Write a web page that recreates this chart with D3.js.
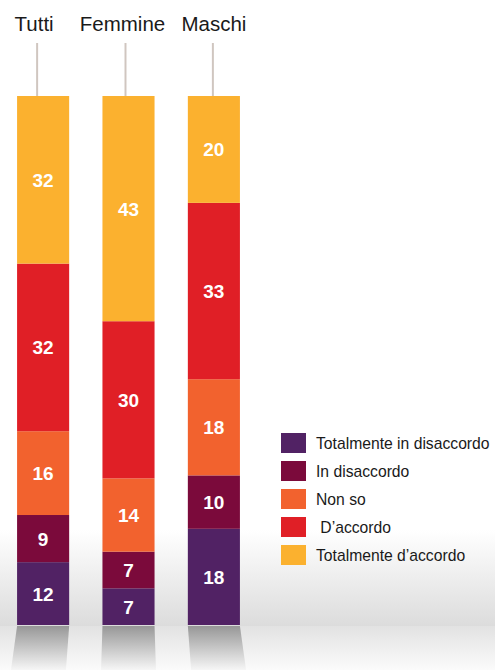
<!DOCTYPE html>
<html>
<head>
<meta charset="utf-8">
<script src="https://cdn.jsdelivr.net/npm/d3@7"></script>
<style>
  body { margin: 0; background: #fff; }
  svg { display: block; font-family: "Liberation Sans", Arial, sans-serif; }
</style>
</head>
<body>
<script>
// categories and answers (bottom to top of each bar)
var groups = ["Tutti", "Femmine", "Maschi"];
var answers = ["Totalmente in disaccordo", "In disaccordo", "Non so", " D\u2019accordo", "Totalmente d\u2019accordo"];
var colors = ["#512264", "#7b0a3b", "#f2622e", "#e01f26", "#fbb12f"];

// percentages per group, same order as answers
var tutti   = [12, 9, 16, 32, 32];
var femmine = [7, 7, 14, 30, 43];
var maschi  = [18, 10, 18, 33, 20];
var values = [tutti, femmine, maschi];

var width = 495, height = 670;
var barTop = 96, floor = 625;

var svg = d3.select("body").append("svg")
    .attr("width", width)
    .attr("height", height);

var defs = svg.append("defs");
var bg = defs.append("linearGradient").attr("id", "bg").attr("x1", 0).attr("x2", 0).attr("y1", 0).attr("y2", 1);
bg.append("stop").attr("offset", "0").attr("stop-color", "#ffffff");
bg.append("stop").attr("offset", "1").attr("stop-color", "#dcdcdc");
var fl = defs.append("linearGradient").attr("id", "fl").attr("x1", 0).attr("x2", 0).attr("y1", 0).attr("y2", 1);
fl.append("stop").attr("offset", "0").attr("stop-color", "#e2e2e2");
fl.append("stop").attr("offset", "1").attr("stop-color", "#fbfbfb");
var sh = defs.append("linearGradient").attr("id", "sh").attr("x1", 0).attr("x2", 0).attr("y1", 0).attr("y2", 1);
sh.append("stop").attr("offset", "0").attr("stop-color", "#979797");
sh.append("stop").attr("offset", "1").attr("stop-color", "#f6f6f6");

// backdrop: wall and floor
svg.append("rect").attr("x", 0).attr("y", 530).attr("width", width).attr("height", floor - 530 + 1).attr("fill", "url(#bg)");
svg.append("rect").attr("x", 0).attr("y", floor + 1).attr("width", width).attr("height", height - floor - 1).attr("fill", "url(#fl)");

var x = d3.scaleBand()
    .domain(groups)
    .range([0, 257])
    .paddingInner(0.39)
    .paddingOuter(0.2);

// titles and stems sit a little off the bar centres
var titleShift = [-9, -6, 0];
var stemShift = [-6, -3, -1];

// shadows under bars (slight perspective)
var vp = 128;
svg.selectAll("path.shadow")
    .data(groups)
    .enter().append("path")
    .attr("class", "shadow")
    .attr("fill", "url(#sh)")
    .attr("d", function(d) {
      var x0 = x(d), x1 = x(d) + x.bandwidth();
      var k = 0.055;
      return "M" + x0 + "," + (floor + 1) + "L" + x1 + "," + (floor + 1) +
             "L" + (x1 + (x1 - vp) * k) + "," + height +
             "L" + (x0 + (x0 - vp) * k) + "," + height + "Z";
    });

// stems above bars
svg.selectAll("line.stem")
    .data(groups)
    .enter().append("line")
    .attr("x1", function(d, i) { return x(d) + x.bandwidth() / 2 + stemShift[i]; })
    .attr("x2", function(d, i) { return x(d) + x.bandwidth() / 2 + stemShift[i]; })
    .attr("y1", 43)
    .attr("y2", barTop)
    .attr("stroke", "#d0c6c0")
    .attr("stroke-width", 2);

// group titles
svg.selectAll("text.title")
    .data(groups)
    .enter().append("text")
    .attr("x", function(d, i) { return x(d) + x.bandwidth() / 2 + titleShift[i]; })
    .attr("y", 31)
    .attr("text-anchor", "middle")
    .attr("font-size", "20.5px")
    .attr("fill", "#1a1a1a")
    .text(function(d) { return d; });

// stacked bars, each scaled to its own total
groups.forEach(function(g, gi) {
  var vals = values[gi];
  var y = d3.scaleLinear().domain([0, d3.sum(vals)]).range([floor, barTop]);
  var cum = d3.cumsum(vals);
  var segs = vals.map(function(v, i) { return { v: v, i: i, y0: cum[i] - v, y1: cum[i] }; });
  var gg = svg.append("g");
  gg.selectAll("rect")
    .data(segs)
    .enter().append("rect")
    .attr("x", x(g))
    .attr("width", x.bandwidth())
    .attr("y", function(d) { return y(d.y1); })
    .attr("height", function(d) { return y(d.y0) - y(d.y1); })
    .attr("fill", function(d) { return colors[d.i]; });
  gg.selectAll("text")
    .data(segs)
    .enter().append("text")
    .attr("x", x(g) + x.bandwidth() / 2)
    .attr("y", function(d) { return (y(d.y0) + y(d.y1)) / 2 + 7; })
    .attr("text-anchor", "middle")
    .attr("font-size", "19px")
    .attr("font-weight", "bold")
    .attr("fill", "#ffffff")
    .text(function(d) { return d.v; });
});

// legend
var legend = svg.append("g").attr("transform", "translate(281,433)");
var row = legend.selectAll("g")
    .data(answers)
    .enter().append("g")
    .attr("transform", function(d, i) { return "translate(0," + (i * 28) + ")"; });
row.append("rect")
    .attr("width", 25)
    .attr("height", 20)
    .attr("fill", function(d, i) { return colors[i]; });
row.append("text")
    .attr("x", 35)
    .attr("y", 16)
    .attr("font-size", "15.7px")
    .attr("fill", "#1a1a1a")
    .style("white-space", "pre")
    .text(function(d) { return d; });
</script>
</body>
</html>
